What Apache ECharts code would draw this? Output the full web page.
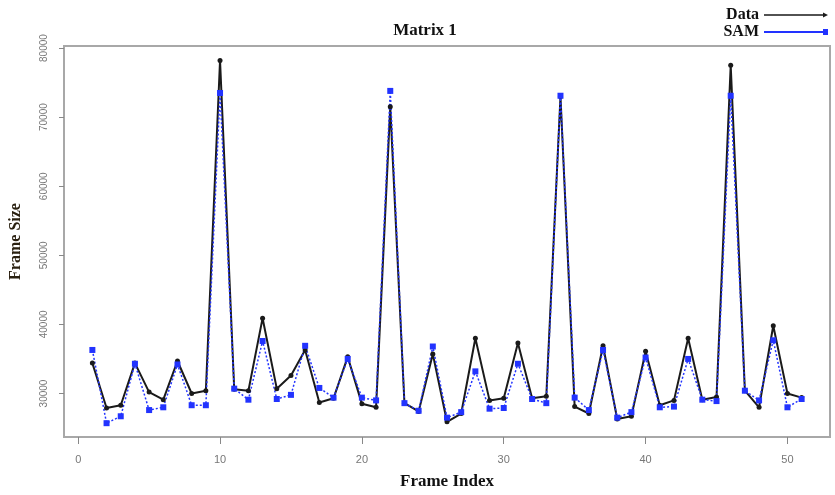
<!DOCTYPE html>
<html>
<head>
<meta charset="utf-8">
<script src="https://cdn.jsdelivr.net/npm/echarts@6/dist/echarts.min.js"></script>
<style>html,body{margin:0;padding:0;background:#fff;}#c{width:835px;height:495px;}</style>
</head>
<body>
<div id="c"></div>
<script>
const frames = Array.from({length: 51}, (_, i) => i + 1);
const dataValues = [34400, 27900, 28300, 34400, 30200, 29100, 34700, 30000, 30400, 78200,
  30600, 30400, 40900, 30700, 32600, 36300, 28700, 29300, 35300, 28500,
  28000, 71500, 28600, 27400, 35700, 25900, 27100, 38000, 29000, 29300,
  37300, 29300, 29600, 73000, 28100, 27100, 36900, 26300, 26700, 36100,
  28300, 29000, 38000, 29100, 29500, 77500, 30400, 28000, 39800, 30000, 29400];
const samValues = [36300, 25700, 26700, 34300, 27600, 28000, 34200, 28300, 28300, 73500,
  30700, 29100, 37600, 29200, 29800, 36900, 30800, 29400, 35000, 29400,
  29000, 73800, 28600, 27500, 36800, 26500, 27300, 33200, 27800, 27900,
  34300, 29200, 28600, 73100, 29400, 27600, 36300, 26500, 27300, 35200,
  28000, 28100, 35000, 29100, 28900, 73100, 30400, 29000, 37700, 28000, 29200];
const xTicks = [0, 10, 20, 30, 40, 50];
const yTicks = [30000, 40000, 50000, 60000, 70000, 80000];
const seriesNames = ['Data', 'SAM'];
const titleText = 'Matrix 1';
const xName = 'Frame Index';
const yName = 'Frame Size';

const chart = echarts.init(document.getElementById('c'), null, {renderer: 'canvas'});
const serif = 'Liberation Serif';
const dataIcon = 'path://M0,4.3L60,4.3L60,5.7L0,5.7Z M59,2.5L64,5L59,7.5Z';
const samIcon = 'path://M0,4L60,4L60,6L0,6Z M59,2L64,2L64,8L59,8Z';
chart.setOption({
  animation: false,
  backgroundColor: '#fff',
  title: {
    text: titleText, left: 420, top: 17, textAlign: 'center',
    textStyle: {fontFamily: serif, fontWeight: 'bold', fontSize: 17, color: '#111'}
  },
  legend: {
    orient: 'vertical', right: 2, top: 2, align: 'right', itemGap: 1,
    itemWidth: 64, itemHeight: 10,
    textStyle: {fontFamily: serif, fontWeight: 'bold', fontSize: 16, color: '#111', padding: [0, 0, 0, 0]},
    data: [{name: seriesNames[0], icon: dataIcon}, {name: seriesNames[1], icon: samIcon}]
  },
  grid: {
    left: 62, right: 5, top: 46, bottom: 52, show: true,
    borderColor: '#a8a8a8', borderWidth: 2, backgroundColor: '#fff'
  },
  xAxis: {
    type: 'value', min: -1, max: 53,
    name: xName, nameLocation: 'middle', nameGap: 36,
    nameTextStyle: {fontFamily: serif, fontWeight: 'bold', fontSize: 17, color: '#111'},
    axisLine: {show: false, onZero: false},
    splitLine: {show: false},
    axisTick: {show: true, length: 7, customValues: xTicks, lineStyle: {color: '#888'}},
    axisLabel: {customValues: xTicks, margin: 17, fontSize: 11, color: '#777', fontFamily: 'Liberation Sans'}
  },
  yAxis: {
    type: 'value', min: 23700, max: 80300,
    name: yName, nameLocation: 'middle', nameGap: 40, nameRotate: 90,
    nameTextStyle: {fontFamily: serif, fontWeight: 'bold', fontSize: 16, color: '#2a2010'},
    axisLine: {show: false, onZero: false},
    splitLine: {show: false},
    axisTick: {show: true, length: 5, customValues: yTicks, lineStyle: {color: '#888'}},
    axisLabel: {customValues: yTicks, rotate: 90, margin: 15, fontSize: 10, color: '#777',
      fontFamily: 'Liberation Sans', formatter: v => String(v)}
  },
  series: [
    {
      name: seriesNames[0], type: 'line',
      data: frames.map((f, i) => [f, dataValues[i]]),
      symbol: 'circle', symbolSize: 5, showSymbol: true,
      lineStyle: {color: '#1a1a1a', width: 2},
      itemStyle: {color: '#1a1a1a'}
    },
    {
      name: seriesNames[1], type: 'line',
      data: frames.map((f, i) => [f, samValues[i]]),
      symbol: 'rect', symbolSize: 6, showSymbol: true,
      lineStyle: {color: '#2233ff', width: 1.5, type: [2, 2]},
      itemStyle: {color: '#2233ff'}
    }
  ]
});
</script>
</body>
</html>
